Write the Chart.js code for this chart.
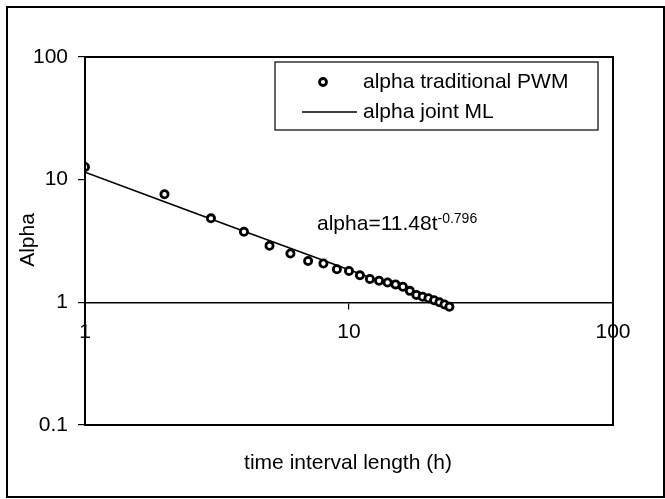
<!DOCTYPE html>
<html><head><meta charset="utf-8">
<script src="https://cdn.jsdelivr.net/npm/chart.js@4"></script>
<style>html,body{margin:0;padding:0;background:#fff}canvas{display:block}</style>
</head><body>
<canvas id="c" width="665" height="499"></canvas>
<script>
const hours = [1,2,3,4,5,6,7,8,9,10,11,12,13,14,15,16,17,18,19,20,21,22,23,24];
const alphaPWM = [12.7,7.6,4.84,3.76,2.89,2.50,2.17,2.07,1.86,1.80,1.66,1.55,1.50,1.45,1.40,1.34,1.24,1.15,1.11,1.08,1.04,1.00,0.96,0.92];
const mlHours = [1,2,4,10,24];
const alphaML = [11.5,6.6,3.8,1.84,0.92];
const xTicks = [1,10,100];
const yTicks = [0.1,1,10,100];
const seriesLabels = ['alpha traditional PWM','alpha joint ML'];
const xTitle = 'time interval length (h)';
const yTitle = 'Alpha';
const fitText = 'alpha=11.48t';
const fitExp = '-0.796';
const FONT = '"Liberation Sans", Arial, sans-serif';

const deco = {
  id: 'deco',
  beforeDraw(chart) {
    const ctx = chart.ctx;
    ctx.save(); ctx.fillStyle = '#fff'; ctx.fillRect(0,0,chart.width,chart.height); ctx.restore();
  },
  afterDraw(chart) {
    const {ctx, chartArea: a} = chart;
    ctx.save();
    ctx.strokeStyle = '#000'; ctx.fillStyle = '#000';
    ctx.lineWidth = 2;
    ctx.strokeRect(a.left, a.top, a.right - a.left, a.bottom - a.top);
    ctx.lineWidth = 2;
    ctx.strokeRect(7, 7, 657, 490);
    // titles
    ctx.font = '21px ' + FONT;
    ctx.textAlign = 'center'; ctx.textBaseline = 'middle';
    ctx.fillText(xTitle, 348, 463);
    ctx.save(); ctx.translate(28, 240); ctx.rotate(-Math.PI/2); ctx.fillText(yTitle, 0, 0); ctx.restore();
    // fit annotation
    ctx.textAlign = 'left'; ctx.textBaseline = 'alphabetic';
    ctx.fillText(fitText, 317, 230);
    const w = ctx.measureText(fitText).width;
    ctx.font = '14px ' + FONT;
    ctx.fillText(fitExp, 317 + w, 223);
    // legend
    ctx.lineWidth = 1.2;
    ctx.strokeRect(275, 62, 323, 68);
    ctx.beginPath(); ctx.arc(323, 82, 3.5, 0, Math.PI*2);
    ctx.fillStyle = '#fff'; ctx.fill(); ctx.lineWidth = 2.8; ctx.stroke();
    ctx.lineWidth = 1.4; ctx.beginPath(); ctx.moveTo(302, 112); ctx.lineTo(357, 112); ctx.stroke();
    ctx.fillStyle = '#000'; ctx.font = '21px ' + FONT; ctx.textBaseline = 'middle';
    ctx.fillText(seriesLabels[0], 363, 82);
    ctx.fillText(seriesLabels[1], 363, 112);
    ctx.restore();
  }
};

new Chart(document.getElementById('c'), {
  type: 'scatter',
  data: {
    datasets: [
      { label: seriesLabels[1], data: mlHours.map((t,i)=>({x:t, y:alphaML[i]})), showLine: true,
        borderColor: '#000', borderWidth: 1.6, pointRadius: 0, fill: false, tension: 0, order: 2 },
      { label: seriesLabels[0], data: hours.map((t,i)=>({x:t, y:alphaPWM[i]})), showLine: false,
        pointStyle: 'circle', pointRadius: 3.6, pointBorderWidth: 2.8, pointBorderColor: '#000',
        pointBackgroundColor: '#fff', order: 1 }
    ]
  },
  options: {
    responsive: false, animation: false,
    layout: { padding: { left: 0, top: 57, right: 52, bottom: 74 } },
    plugins: { legend: { display: false }, tooltip: { enabled: false } },
    scales: {
      x: {
        type: 'logarithmic', min: 1, max: 100, position: { y: 1 },
        afterBuildTicks: s => { s.ticks = xTicks.map(v => ({ value: v })); },
        afterFit: s => { s.height = 0; },
        ticks: { callback: v => String(v), color: '#000', font: { size: 21, family: FONT }, padding: 11, maxRotation: 0, autoSkip: false },
        grid: { drawOnChartArea: false, drawTicks: true, tickLength: 6, color: '#000', lineWidth: 1.2 },
        border: { display: true, color: '#000', width: 1.6 }
      },
      y: {
        type: 'logarithmic', min: 0.1, max: 100, position: 'left',
        afterBuildTicks: s => { s.ticks = yTicks.map(v => ({ value: v })); },
        afterFit: s => { s.width = 85; },
        ticks: { callback: v => String(v), color: '#000', font: { size: 21, family: FONT }, padding: 10, autoSkip: false },
        grid: { drawOnChartArea: false, drawTicks: true, tickLength: 7, color: '#000', lineWidth: 1.2 },
        border: { display: true, color: '#000', width: 2 }
      }
    }
  },
  plugins: [deco]
});
</script>
</body></html>
